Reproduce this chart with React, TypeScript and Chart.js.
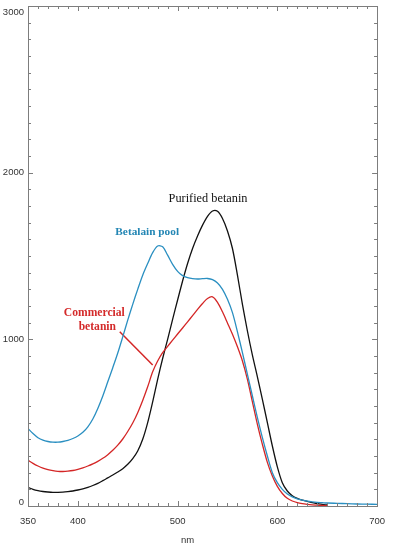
import React, { useEffect, useRef } from "react";
import { Chart, registerables } from "chart.js";

Chart.register(...registerables);

// ---- data ----
const wavelengths = [
  350, 355, 360, 365, 370, 375, 380, 385, 390, 395, 400, 405, 410, 415, 420, 425, 430, 435, 440, 445,
  450, 455, 460, 465, 470, 475, 480, 485, 490, 495, 500, 505, 510, 515, 520, 525, 530, 535, 540, 545,
  550, 555, 560, 565, 570, 575, 580, 585, 590, 595, 600, 605, 610, 615, 620, 625, 630, 635, 640, 645,
  650, 660, 670, 680, 690, 700,
];
const betalainPool = [
  465, 435, 410, 395, 387, 383, 383, 387, 394, 405, 420, 442, 475, 522, 585, 660, 745, 830, 918, 1015,
  1115, 1210, 1300, 1385, 1455, 1520, 1560, 1555, 1505, 1450, 1408, 1382, 1370, 1364, 1362, 1364, 1365, 1358, 1338, 1300,
  1240, 1160, 1045, 920, 790, 660, 530, 410, 300, 200, 140, 100, 72, 55, 43, 35, 29, 25, 22, 20,
  18, 16, 14, 12, 11, 10,
];
const purifiedBetanin = [
  112, 100, 92, 87, 84, 82, 82, 83, 86, 90, 96, 103, 112, 123, 136, 152, 169, 186, 204, 224,
  250, 284, 330, 400, 500, 625, 760, 885, 1000, 1120, 1236, 1350, 1455, 1545, 1620, 1685, 1738, 1770, 1768, 1725,
  1650, 1545, 1385, 1210, 1050, 905, 775, 640, 500, 360, 235, 140, 90, 62, 46, 35, 28, 20, 15, 10,
  6, null, null, null, null, null,
];
const commercialBetanin = [
  275, 256, 240, 227, 218, 212, 208, 207, 209, 213, 220, 229, 240, 253, 268, 286, 308, 334, 365, 402,
  447, 498, 560, 633, 715, 805, 870, 920, 958, 995, 1032, 1068, 1105, 1142, 1180, 1215, 1245, 1255, 1222, 1165,
  1098, 1030, 955, 870, 760, 625, 490, 370, 262, 180, 118, 75, 46, 30, 20, 14, 10, 7, 5, 3,
  2, null, null, null, null, null,
];
const xTickLabels = [350, 400, 500, 600, 700];
const yTickLabels = [0, 1000, 2000, 3000];
const xAxisTitle = "nm";
// pointer line for the "Commercial betanin" label (data coordinates)
const pointerNm = [442, 475];
const pointerAbs = [1045, 846];

// annotation texts (anchored in data coordinates)
const notes = [
  { lines: ["Purified betanin"], nm: 530.5, abs: 1842, color: "#111111", weight: "normal", size: 12.3 },
  { lines: ["Betalain pool"], nm: 469.5, abs: 1644, color: "#2386b4", weight: "bold", size: 11.3 },
  { lines: ["Commercial", "betanin"], nm: 416.5, abs: 1158, color: "#d42a2a", weight: "bold", size: 11.6 },
];

const BLUE = "#2a8fc1";
const RED = "#d42626";
const BLACK = "#111111";
const FRAME = "#7d7d7d";
const TICK_FONT = "'Liberation Sans', Arial, sans-serif";
const NOTE_FONT = "'Liberation Serif', 'Times New Roman', serif";

const toPoints = (vals: (number | null)[]) =>
  wavelengths.map((w, i) => ({ x: w, y: vals[i] }));

const framePlugin = {
  id: "frameAndNotes",
  afterDraw(chart: any) {
    const { ctx, chartArea, scales } = chart;
    const xs = scales.x;
    const ys = scales.y;
    const { left, right, top, bottom } = chartArea;
    ctx.save();
    // frame
    ctx.strokeStyle = FRAME;
    ctx.lineWidth = 1;
    ctx.strokeRect(Math.round(left) + 0.5, Math.round(top) + 0.5, Math.round(right - left), Math.round(bottom - top));
    // x ticks every 10 nm, inward on bottom and top
    for (let v = 350; v <= 700; v += 10) {
      const px = Math.round(xs.getPixelForValue(v)) + 0.5;
      const len = v % 100 === 0 ? 5 : 3;
      ctx.beginPath();
      ctx.moveTo(px, bottom);
      ctx.lineTo(px, bottom - len);
      ctx.moveTo(px, top);
      ctx.lineTo(px, top + len);
      ctx.stroke();
    }
    // y ticks every 100, inward on left and right
    for (let v = 0; v <= 3000; v += 100) {
      const py = Math.round(ys.getPixelForValue(v)) + 0.5;
      const len = v % 1000 === 0 ? 5 : 3;
      ctx.beginPath();
      ctx.moveTo(left, py);
      ctx.lineTo(left + len, py);
      ctx.moveTo(right, py);
      ctx.lineTo(right - len, py);
      ctx.stroke();
    }
    // y tick labels (kept inside the frame height at the ends)
    ctx.fillStyle = "#333333";
    ctx.font = `9.5px ${TICK_FONT}`;
    ctx.textAlign = "right";
    ctx.textBaseline = "middle";
    yTickLabels.forEach((v) => {
      const py = Math.min(Math.max(ys.getPixelForValue(v), top + 6), bottom - 4);
      ctx.fillText(String(v), left - 4, py);
    });
    // axis title
    ctx.textAlign = "center";
    ctx.fillText(xAxisTitle, xs.getPixelForValue(510), bottom + 34);
    // annotations
    notes.forEach((n) => {
      ctx.fillStyle = n.color;
      ctx.font = `${n.weight} ${n.size}px ${NOTE_FONT}`;
      const cx = xs.getPixelForValue(n.nm);
      const cy = ys.getPixelForValue(n.abs);
      n.lines.forEach((t, i) => {
        ctx.fillText(t, cx + (i === 1 ? 3 : 0), cy + i * 14);
      });
    });
    ctx.restore();
  },
};

export default function App() {
  const ref = useRef<HTMLCanvasElement | null>(null);
  useEffect(() => {
    document.body.style.margin = "0";
    const canvas = ref.current;
    if (!canvas) return;
    const chart = new Chart(canvas, {
      type: "line",
      data: {
        datasets: [
          { label: "Betalain pool", data: toPoints(betalainPool), borderColor: BLUE },
          { label: "Commercial betanin", data: toPoints(commercialBetanin), borderColor: RED },
          { label: "Purified betanin", data: toPoints(purifiedBetanin), borderColor: BLACK },
          {
            label: "pointer",
            data: pointerNm.map((x, i) => ({ x, y: pointerAbs[i] })),
            borderColor: RED,
            borderWidth: 1.5,
            tension: 0,
          },
        ],
      },
      options: {
        responsive: false,
        animation: false,
        devicePixelRatio: 1,
        layout: { padding: { top: 6, right: 10, left: 0, bottom: 0 } },
        plugins: { legend: { display: false }, tooltip: { enabled: false } },
        elements: {
          point: { radius: 0 },
          line: { borderWidth: 1.3, tension: 0.3, fill: false },
        },
        scales: {
          x: {
            type: "linear",
            min: 350,
            max: 700,
            grid: { display: false, drawTicks: false },
            border: { display: false },
            afterBuildTicks: (s: any) => {
              s.ticks = xTickLabels.map((v) => ({ value: v }));
            },
            afterFit: (s: any) => {
              s.height = 44;
            },
            ticks: {
              padding: 10,
              color: "#333333",
              font: { family: TICK_FONT, size: 9.5 },
              maxRotation: 0,
              autoSkip: false,
              callback: (v: any) => String(v),
            },
          },
          y: {
            min: 0,
            max: 3000,
            grid: { display: false, drawTicks: false },
            border: { display: false },
            afterBuildTicks: (s: any) => {
              s.ticks = yTickLabels.map((v) => ({ value: v }));
            },
            afterFit: (s: any) => {
              s.width = 28;
            },
            ticks: { display: false },
          },
        },
      },
      plugins: [framePlugin],
    } as any);
    return () => chart.destroy();
  }, []);
  return (
    <canvas ref={ref} width={395} height={550} style={{ display: "block", width: 395, height: 550 }} />
  );
}
